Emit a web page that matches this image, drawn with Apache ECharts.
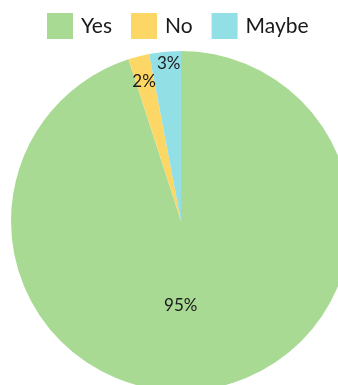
<!DOCTYPE html>
<html>
<head>
<meta charset="utf-8">
<script src="https://cdn.jsdelivr.net/npm/echarts@6/dist/echarts.min.js"></script>
<style>
  html, body { margin: 0; padding: 0; background: #fff; }
  #main { width: 338px; height: 385px; }
</style>
</head>
<body>
<div id="main"></div>
<script>
var categories = ['Yes', 'No', 'Maybe'];
var values = [95, 2, 3];
var colors = ['#a8da94', '#fcd766', '#93dfe6'];
// nudges so the labels sit where the original put them
var labelShift = [[-14, -2], [-15, -54], [-4, -70]];

var myChart = echarts.init(document.getElementById('main'));

var option = {
    animation: false,
    legend: {
        data: categories,
        top: 8,
        left: 42,
        icon: 'rect',
        itemWidth: 26,
        itemHeight: 26,
        itemGap: 19,
        textStyle: {
            fontFamily: 'Lato',
            fontSize: 21,
            color: '#1a1a1a',
            padding: [0, 0, 0, 3]
        }
    },
    series: [{
        type: 'pie',
        center: [181, 221],
        radius: 170,
        startAngle: 90,
        clockwise: true,
        label: {
            show: true,
            position: 'inside',
            formatter: '{d}%',
            fontFamily: 'Lato',
            fontSize: 17,
            color: '#1a1a1a'
        },
        labelLine: { show: false },
        emphasis: { disabled: true },
        labelLayout: function (p) {
            var s = labelShift[p.dataIndex];
            return { dx: s[0], dy: s[1] };
        },
        data: categories.map(function (name, i) {
            return { name: name, value: values[i], itemStyle: { color: colors[i] } };
        })
    }]
};

myChart.setOption(option);
</script>
</body>
</html>
